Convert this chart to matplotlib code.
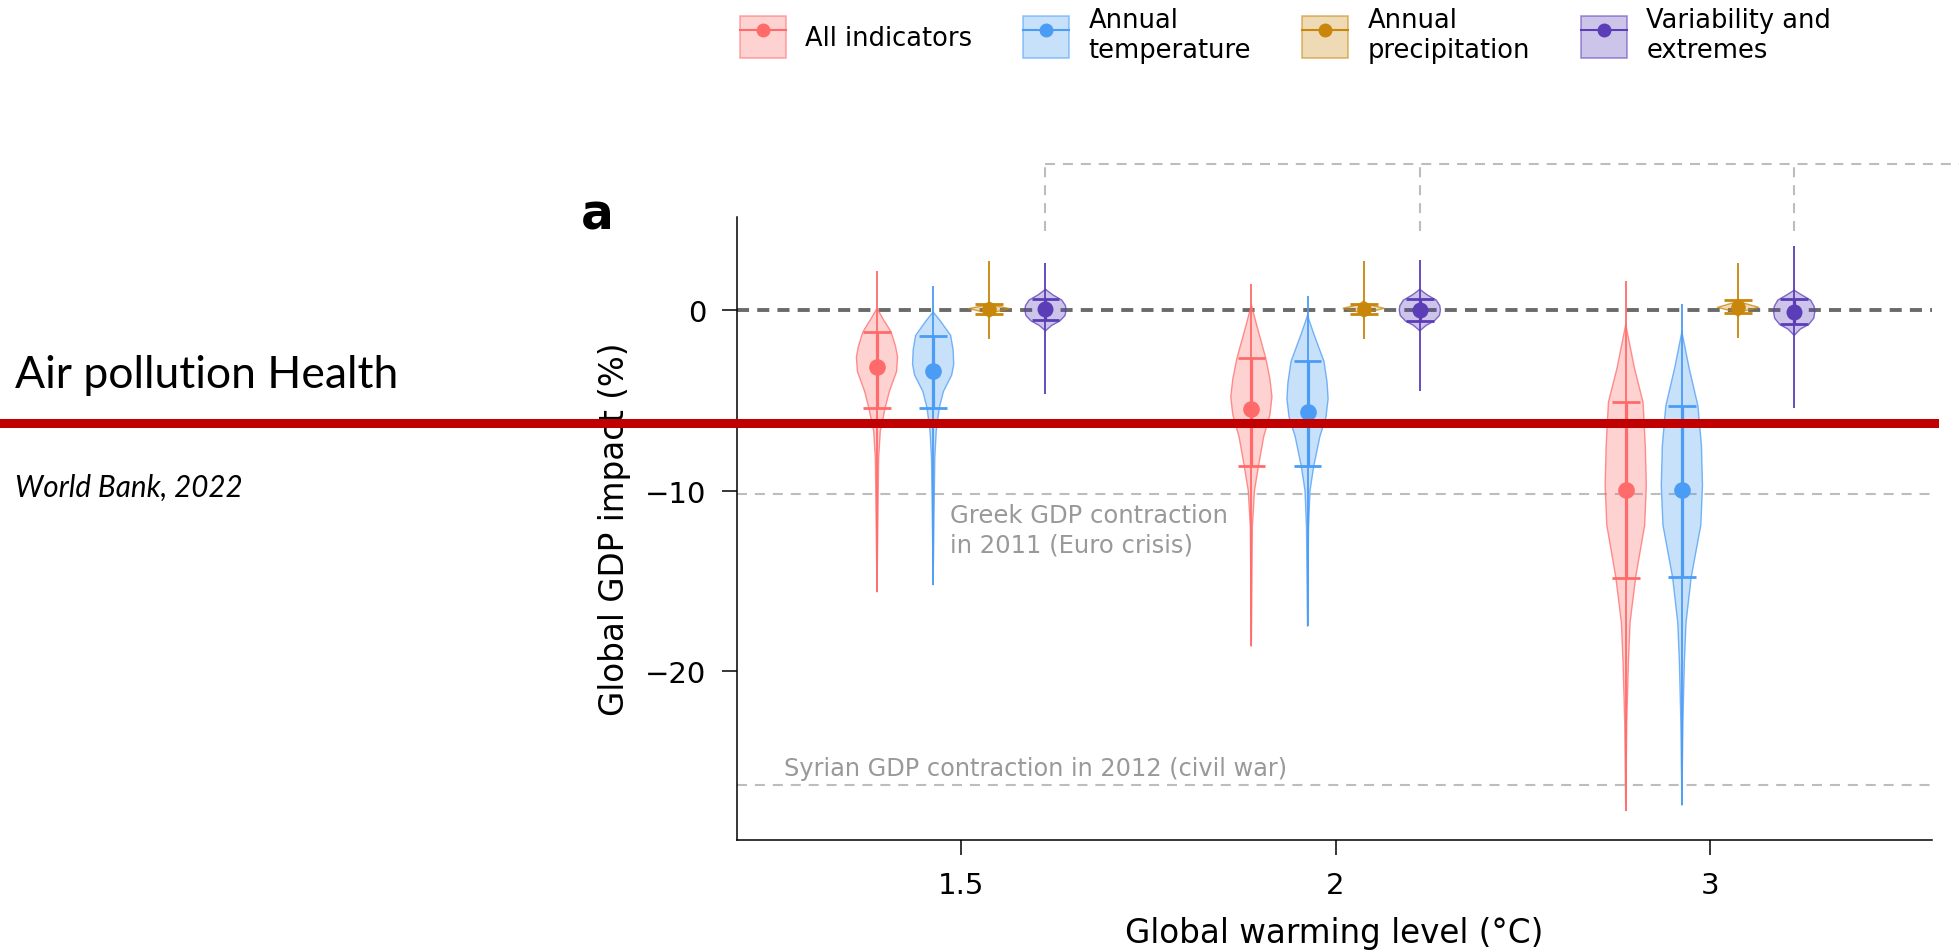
import numpy as np
import matplotlib.pyplot as plt
import matplotlib.transforms as mtransforms
from matplotlib.patches import Patch
from matplotlib.lines import Line2D
from matplotlib.legend_handler import HandlerTuple

plt.rcParams['font.family'] = ['DejaVu Sans']

warming_levels = ['1.5', '2', '3']
series_names = ['All indicators', 'Annual\ntemperature', 'Annual\nprecipitation', 'Variability and\nextremes']
series_colors = ['#ff6b6b', '#4b9cf5', '#c8860a', '#5b3db8']

# per series (rows) and warming level (columns), GDP impact in %
medians = [[-3.17, -5.5, -9.93], [-3.35, -5.63, -9.97], [0.05, 0.08, 0.15], [0.05, 0.0, -0.11]]
upper_bars = [[-1.2, -2.66, -5.08], [-1.42, -2.84, -5.3], [0.33, 0.35, 0.55], [0.6, 0.61, 0.59]]
lower_bars = [[-5.41, -8.62, -14.84], [-5.43, -8.65, -14.77], [-0.2, -0.2, -0.15], [-0.54, -0.58, -0.76]]
max_vals = [[2.17, 1.45, 1.59], [1.34, 0.76, 0.33], [2.7, 2.71, 2.62], [2.6, 2.79, 3.55]]
min_vals = [[-15.6, -18.6, -27.7], [-15.2, -17.5, -27.4], [-1.6, -1.6, -1.53], [-4.65, -4.49, -5.4]]

# violin outlines: impact level and relative half width
red_prof_y = [[0.1, -0.5, -1.2, -2.0, -2.6, -3.4, -4.5, -5.4, -6.7, -8.2, -11.9, -15.6],
              [0.3, -0.8, -2.66, -3.8, -4.8, -5.8, -7.0, -8.6, -10.0, -12.0, -18.6],
              [-0.8, -3.2, -5.1, -7.5, -9.7, -11.9, -14.8, -17.3, -19.5, -22.8, -27.7]]
red_prof_w = [[0, 0.3, 0.68, 0.9, 1.0, 0.95, 0.6, 0.4, 0.16, 0.08, 0.04, 0],
              [0, 0.25, 0.7, 0.9, 1.0, 0.9, 0.6, 0.35, 0.15, 0.05, 0],
              [0, 0.42, 0.84, 0.95, 1.0, 0.92, 0.48, 0.21, 0.13, 0.05, 0]]
blue_prof_y = [[-0.1, -0.6, -1.4, -2.2, -3.0, -3.6, -4.5, -5.4, -6.7, -8.2, -11.5, -15.2],
               [-0.3, -1.3, -2.84, -4.0, -4.9, -5.9, -7.0, -8.65, -10.0, -12.0, -17.5],
               [-1.2, -3.2, -5.3, -7.5, -9.7, -11.9, -14.8, -17.3, -19.5, -22.8, -27.4]]
blue_prof_w = [[0, 0.35, 0.85, 0.97, 1.0, 0.9, 0.5, 0.3, 0.15, 0.08, 0.04, 0],
               [0, 0.3, 0.8, 0.95, 1.0, 0.9, 0.6, 0.3, 0.12, 0.05, 0],
               [0, 0.35, 0.78, 0.95, 1.0, 0.92, 0.45, 0.2, 0.12, 0.05, 0]]
gold_prof_y = [[0.45, 0.25, 0.08, -0.1, -0.4],
               [0.5, 0.3, 0.1, -0.1, -0.4],
               [0.6, 0.4, 0.15, -0.05, -0.35]]
gold_prof_w = [[0, 0.25, 1.0, 0.3, 0],
               [0, 0.25, 1.0, 0.3, 0],
               [0, 0.25, 1.0, 0.3, 0]]
purple_prof_y = [[1.15, 0.85, 0.55, 0.25, 0.0, -0.3, -0.6, -0.85, -1.15],
                 [1.15, 0.85, 0.55, 0.25, 0.0, -0.3, -0.6, -0.85, -1.15],
                 [1.1, 0.85, 0.55, 0.2, -0.1, -0.45, -0.8, -1.05, -1.4]]
purple_prof_w = [[0, 0.35, 0.8, 0.97, 1.0, 0.95, 0.7, 0.3, 0],
                 [0, 0.35, 0.8, 0.97, 1.0, 0.95, 0.7, 0.3, 0],
                 [0, 0.35, 0.8, 0.97, 1.0, 0.95, 0.7, 0.3, 0]]
prof_y = [red_prof_y, blue_prof_y, gold_prof_y, purple_prof_y]
prof_w = [red_prof_w, blue_prof_w, gold_prof_w, purple_prof_w]

greek_crisis = -10.2
syria_crisis = -26.3
air_pollution = -6.27

offsets = [-0.225, -0.075, 0.075, 0.225]
half_w = 0.055
bar_half = 0.037
dot_size = [12, 12, 10.5, 11.5]
light = '#bdbdbd'
light_dash = (4.8, 3.8)

fig = plt.figure(figsize=(19.59, 9.53), dpi=100)
ax = fig.add_axes([0.3762, 0.1175, 0.6100, 0.6537])

ax.axhline(0, color='#6a6a6a', lw=2.8, dashes=(3.1, 2.1), zorder=1)
ax.axhline(greek_crisis, color=light, lw=1.5, dashes=light_dash, zorder=1)
ax.axhline(syria_crisis, color=light, lw=1.5, dashes=light_dash, zorder=1)

for s in range(4):
    col = series_colors[s]
    for g in range(3):
        x = g + offsets[s]
        py = np.array(prof_y[s][g])
        pw = np.array(prof_w[s][g]) * half_w
        ax.fill_betweenx(py, x - pw, x + pw, facecolor=col, alpha=0.3, edgecolor='none', zorder=2)
        ax.plot(np.r_[x - pw, (x + pw)[::-1]], np.r_[py, py[::-1]], color=col, lw=1.0, alpha=0.75, zorder=3)
        ax.vlines(x, min_vals[s][g], max_vals[s][g], color=col, lw=1.3, zorder=3)
        ax.vlines(x, lower_bars[s][g], upper_bars[s][g], color=col, lw=2.3, zorder=3)
        ax.hlines([lower_bars[s][g], upper_bars[s][g]], x - bar_half, x + bar_half, color=col, lw=2.0, zorder=3)
        ax.plot(x, medians[s][g], 'o', color=col, ms=dot_size[s], mec='none', zorder=4)

# dashed bracket above the variability violins
top_y, low_y = 8.07, 4.36
for g in range(3):
    ax.plot([g + offsets[3]] * 2, [low_y, top_y], color=light, lw=1.5, dashes=light_dash, clip_on=False)
ax.plot([offsets[3], 2.8], [top_y, top_y], color=light, lw=1.5, dashes=light_dash, clip_on=False)

ax.text(-0.03, -10.66, 'Greek GDP contraction\nin 2011 (Euro crisis)', color='#999999', fontsize=17.5,
        va='top', ha='left', linespacing=1.32)
ax.text(-0.473, -25.75, 'Syrian GDP contraction in 2012 (civil war)', color='#999999', fontsize=17.3,
        va='baseline', ha='left')

ax.set_xlim(-0.599, 2.593)
ax.set_ylim(-29.33, 5.15)
ax.set_xticks(range(3))
ax.set_xticklabels(warming_levels)
ax.set_yticks([0, -10, -20])
ax.tick_params(labelsize=21, length=11, width=1.1, pad=11)
for side in ['top', 'right']:
    ax.spines[side].set_visible(False)
for side in ['left', 'bottom']:
    ax.spines[side].set_linewidth(1.1)
ax.set_xlabel('Global warming level (°C)', fontsize=23.5)
ax.set_ylabel('Global GDP impact (%)', fontsize=23.5)
ax.xaxis.set_label_coords(0.5, -0.122)
ax.yaxis.set_label_coords(-0.089, 0.5)

# legend
handles = []
for col in series_colors:
    handles.append((Patch(facecolor=col, alpha=0.3, edgecolor='none'),
                    Patch(facecolor='none', edgecolor=col, alpha=0.55, lw=1.2),
                    Line2D([], [], color=col, lw=1.5, marker='o', ms=9)))
fig.legend(handles, series_names, handler_map={tuple: HandlerTuple(ndivide=1)}, ncol=4,
           loc='upper left', bbox_to_anchor=(0.3777, 0.992), frameon=False, fontsize=18.5,
           handlelength=1.79, handleheight=2.14, handletextpad=0.74, columnspacing=2.0,
           borderpad=0, borderaxespad=0)

# overlay annotation
blend = mtransforms.blended_transform_factory(fig.transFigure, ax.transData)
ax.add_line(Line2D([0, 0.987], [air_pollution, air_pollution], transform=blend, color='#c00000',
                   lw=6.5, clip_on=False, zorder=10))
fig.text(0.2966, 0.7587, 'a', fontsize=35, fontweight='heavy', family='DejaVu Sans', va='baseline')
fig.text(15 / 1959, 0.5929, 'Air pollution Health', fontsize=32, family=['Lato', 'DejaVu Sans'], va='baseline')
fig.text(15 / 1959, 0.4785, 'World Bank, 2022', fontsize=21.3, style='italic', family=['Lato', 'DejaVu Sans'],
         va='baseline')

fig.savefig('out.png', dpi=100)
